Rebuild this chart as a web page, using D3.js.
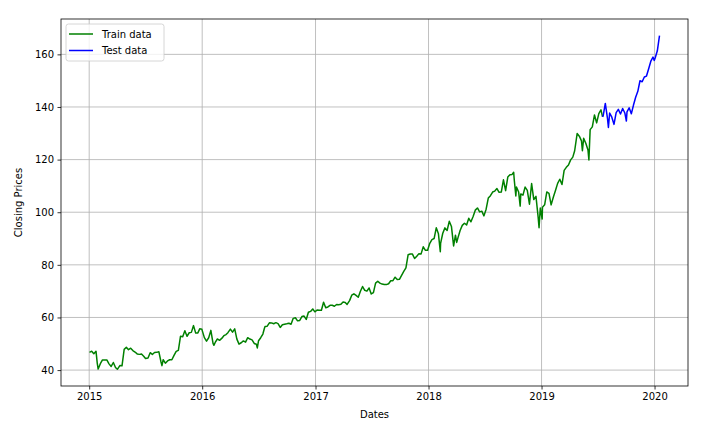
<!DOCTYPE html>
<html>
<head>
<meta charset="utf-8">
<script src="https://cdn.jsdelivr.net/npm/d3@7"></script>
<style>
  body { margin: 0; background: #fff; }
  svg { font-family: "DejaVu Sans", sans-serif; }
</style>
</head>
<body>
<svg id="chart" width="713" height="435"></svg>
<script>
// weekly closes (plus a few daily extremes), [MM-DD, close]
const prices2015 = [
  ["01-02",46.76],["01-09",47.19],["01-16",46.24],["01-23",47.18],["01-27",42.66],["01-30",40.40],
  ["02-06",42.41],["02-13",43.87],["02-20",43.86],["02-27",43.85],["03-06",42.36],["03-13",41.38],
  ["03-20",42.88],["03-27",40.97],["04-02",40.29],["04-10",41.72],["04-17",41.62],["04-24",47.87],
  ["05-01",48.66],["05-08",47.75],["05-15",48.30],["05-22",47.42],["05-29",46.86],["06-05",46.14],
  ["06-12",45.97],["06-19",46.10],["06-26",45.26],["07-02",44.40],["07-10",44.61],["07-17",46.62],
  ["07-24",45.94],["07-31",46.70],["08-07",46.74],["08-14",47.00],["08-21",43.07],["08-24",41.68],
  ["08-28",43.93],["09-04",42.61],["09-11",43.48],["09-18",43.92],["09-25",43.94],["10-02",45.57],
  ["10-09",47.11],["10-16",47.51],["10-23",52.87],["10-30",52.64],["11-06",54.92],["11-13",52.84],
  ["11-20",54.19],["11-27",54.33],["12-04",56.91],["12-11",54.06],["12-18",54.13],["12-24",55.67],
  ["12-31",55.48]
];
const prices2016 = [
  ["01-08",52.33],["01-15",50.99],["01-22",52.29],["01-29",55.09],["02-05",50.16],["02-08",49.41],
  ["02-12",50.50],["02-19",51.82],["02-26",51.30],["03-04",52.03],["03-11",53.07],["03-18",53.49],
  ["03-24",54.21],["04-01",55.57],["04-08",54.42],["04-15",55.65],["04-22",51.78],["04-29",49.87],
  ["05-06",50.39],["05-13",51.08],["05-20",50.62],["05-27",52.32],["06-03",51.79],["06-10",51.48],
  ["06-17",50.13],["06-24",49.83],["06-27",48.43],["07-01",51.16],["07-08",52.30],["07-15",53.70],
  ["07-20",55.91],["07-22",56.57],["07-29",56.68],["08-05",57.96],["08-12",57.94],["08-19",57.62],
  ["08-26",58.03],["09-02",57.67],["09-09",56.21],["09-16",57.25],["09-23",57.43],["09-30",57.60],
  ["10-07",57.80],["10-14",57.42],["10-21",59.66],["10-28",59.87],["11-04",58.71],["11-11",58.87],
  ["11-18",60.35],["11-25",60.53],["12-02",59.25],["12-09",61.97],["12-16",62.30],["12-23",63.24],
  ["12-30",62.14]
];
const prices2017 = [
  ["01-06",62.84],["01-13",62.70],["01-20",62.74],["01-27",65.78],["02-03",63.68],["02-10",64.00],
  ["02-17",64.62],["02-24",64.62],["03-03",64.25],["03-10",64.93],["03-17",64.87],["03-24",64.98],
  ["03-31",65.86],["04-07",65.68],["04-13",64.95],["04-21",66.40],["04-28",68.46],["05-05",69.00],
  ["05-12",68.38],["05-19",67.69],["05-26",69.96],["06-02",71.76],["06-09",70.32],["06-16",70.00],
  ["06-23",71.21],["06-30",68.93],["07-07",69.46],["07-14",73.04],["07-21",73.79],["07-28",73.04],
  ["08-04",72.68],["08-11",72.50],["08-18",72.49],["08-25",72.82],["09-01",73.94],["09-08",73.98],
  ["09-15",75.31],["09-22",74.41],["09-29",74.49],["10-06",76.00],["10-13",77.49],["10-20",78.81],
  ["10-27",83.81],["11-03",84.14],["11-10",84.09],["11-17",82.40],["11-24",83.26],["12-01",84.26],
  ["12-08",84.16],["12-15",86.85],["12-22",85.51],["12-29",85.54]
];
const prices2018 = [
  ["01-05",88.19],["01-12",89.60],["01-19",90.00],["01-26",94.06],["02-02",91.78],["02-08",85.01],
  ["02-09",88.18],["02-16",92.00],["02-23",94.06],["03-02",93.05],["03-09",96.54],["03-16",94.60],
  ["03-23",87.18],["03-29",91.27],["04-02",88.52],["04-06",90.23],["04-13",93.08],["04-20",95.00],
  ["04-27",95.82],["05-04",95.16],["05-11",97.70],["05-18",96.36],["05-25",98.36],["06-01",100.79],
  ["06-08",101.63],["06-15",100.13],["06-22",100.41],["06-29",98.61],["07-06",101.16],["07-13",105.37],
  ["07-20",106.27],["07-27",107.68],["08-03",108.04],["08-10",109.00],["08-17",107.58],["08-24",107.66],
  ["08-31",112.33],["09-07",108.21],["09-14",113.37],["09-21",114.26],["09-28",114.37],["10-03",115.17],
  ["10-05",112.13],["10-10",106.16],["10-12",109.57],["10-19",107.71],["10-24",102.32],["10-26",106.96],
  ["11-02",106.49],["11-09",109.57],["11-16",108.29],["11-23",103.07],["11-30",110.89],["12-07",104.82],
  ["12-14",106.03],["12-21",98.23],["12-24",94.13],["12-28",101.57]
];
const prices2019 = [
  ["01-03",97.40],["01-04",101.93],["01-11",102.80],["01-18",107.71],["01-25",107.17],["02-01",102.78],
  ["02-08",105.67],["02-15",108.22],["02-22",110.97],["03-01",112.53],["03-08",110.51],["03-15",115.91],
  ["03-22",117.05],["03-29",117.94],["04-05",119.89],["04-12",120.95],["04-18",123.37],["04-26",129.89],
  ["05-03",128.90],["05-10",127.13],["05-13",123.35],["05-17",128.07],["05-24",126.24],["05-31",123.68],
  ["06-03",119.84],["06-07",131.40],["06-14",132.45],["06-21",136.97],["06-28",133.96],["07-05",137.46],
  ["07-12",138.90],["07-17",136.27],["07-19",136.62],["07-26",141.34],["08-02",135.68],["08-05",132.21],
  ["08-09",137.71],["08-16",136.13],["08-23",133.39],["08-30",137.86],["09-06",139.10],["09-13",137.32],
  ["09-20",139.44],["09-27",137.73],["10-02",134.65],["10-04",138.12],["10-11",139.68],["10-18",137.41],
  ["10-25",140.73],["11-01",143.72],["11-08",145.96],["11-15",149.97],["11-22",149.59],["11-29",151.38],
  ["12-06",151.75],["12-13",154.53],["12-20",157.41],["12-27",158.96],["12-31",157.70]
];
const prices2020 = [
  ["01-03",158.62],["01-10",161.34],["01-17",167.10]
];
const splitDate = "2019-07-17";
const yearTicks = [2015, 2016, 2017, 2018, 2019, 2020];
const priceTicks = [40, 60, 80, 100, 120, 140, 160];

const parse = d3.timeParse("%Y-%m-%d");
const rows = [];
[[2015, prices2015], [2016, prices2016], [2017, prices2017],
 [2018, prices2018], [2019, prices2019], [2020, prices2020]].forEach(([yr, arr]) => {
  arr.forEach(([md, v]) => rows.push({ date: parse(yr + "-" + md), close: v }));
});
const split = parse(splitDate);
const train = rows.filter((d) => d.date <= split);
const test = rows.filter((d) => d.date >= split);

const svg = d3.select("#chart");
const margin = { left: 61, top: 19, right: 25, bottom: 49 };
const W = 713, H = 435;
const iw = W - margin.left - margin.right;
const ih = H - margin.top - margin.bottom;

// matplotlib style 5% margins
const xExt = d3.extent(rows, (d) => d.date);
const xPad = (xExt[1] - xExt[0]) * 0.05;
const x = d3.scaleTime()
  .domain([new Date(+xExt[0] - xPad), new Date(+xExt[1] + xPad)])
  .range([0, iw]);
const yExt = d3.extent(rows, (d) => d.close);
const yPad = (yExt[1] - yExt[0]) * 0.05;
const y = d3.scaleLinear()
  .domain([yExt[0] - yPad, yExt[1] + yPad])
  .range([ih, 0]);

const g = svg.append("g").attr("transform", `translate(${margin.left},${margin.top})`);

const yearDates = yearTicks.map((yr) => new Date(yr, 0, 1));

// grid
g.append("g").selectAll("line").data(yearDates).join("line")
  .attr("x1", (d) => x(d)).attr("x2", (d) => x(d))
  .attr("y1", 0).attr("y2", ih)
  .attr("stroke", "#b0b0b0").attr("stroke-width", 0.8);
g.append("g").selectAll("line").data(priceTicks).join("line")
  .attr("x1", 0).attr("x2", iw)
  .attr("y1", (d) => y(d)).attr("y2", (d) => y(d))
  .attr("stroke", "#b0b0b0").attr("stroke-width", 0.8);

const line = d3.line().x((d) => x(d.date)).y((d) => y(d.close));
g.append("path").datum(train).attr("d", line)
  .attr("fill", "none").attr("stroke", "green").attr("stroke-width", 1.5)
  .attr("stroke-linejoin", "round");
g.append("path").datum(test).attr("d", line)
  .attr("fill", "none").attr("stroke", "blue").attr("stroke-width", 1.5)
  .attr("stroke-linejoin", "round");

// axes
const xAxis = g.append("g").attr("transform", `translate(0,${ih})`)
  .call(d3.axisBottom(x).tickValues(yearDates).tickFormat(d3.timeFormat("%Y"))
    .tickSize(3.5).tickPadding(3.5));
const yAxis = g.append("g")
  .call(d3.axisLeft(y).tickValues(priceTicks).tickSize(3.5).tickPadding(3.5));
[xAxis, yAxis].forEach((a) => {
  a.select(".domain").remove();
  a.selectAll("line").attr("stroke", "#000").attr("stroke-width", 0.8);
  a.selectAll("text").attr("font-size", 10).attr("fill", "#000")
    .attr("font-family", "DejaVu Sans, sans-serif");
});

// frame
g.append("rect").attr("width", iw).attr("height", ih)
  .attr("fill", "none").attr("stroke", "#000").attr("stroke-width", 0.8);

// labels
svg.append("text").attr("x", margin.left + iw / 2).attr("y", 418)
  .attr("text-anchor", "middle").attr("font-size", 10).text("Dates");
svg.append("text")
  .attr("transform", `translate(22,${margin.top + ih / 2}) rotate(-90)`)
  .attr("text-anchor", "middle").attr("font-size", 10).text("Closing Prices");

// legend
const leg = g.append("g").attr("transform", "translate(5,5)");
leg.append("rect").attr("width", 98).attr("height", 37).attr("rx", 2.5)
  .attr("fill", "#fff").attr("fill-opacity", 0.8)
  .attr("stroke", "#cccccc").attr("stroke-width", 0.8);
const items = [["Train data", "green"], ["Test data", "blue"]];
items.forEach(([label, color], i) => {
  const cy = 10 + i * 16.5;
  leg.append("line").attr("x1", 3).attr("x2", 27).attr("y1", cy).attr("y2", cy)
    .attr("stroke", color).attr("stroke-width", 1.5);
  leg.append("text").attr("x", 36).attr("y", cy).attr("dy", "0.35em")
    .attr("font-size", 10).text(label);
});
</script>
</body>
</html>
